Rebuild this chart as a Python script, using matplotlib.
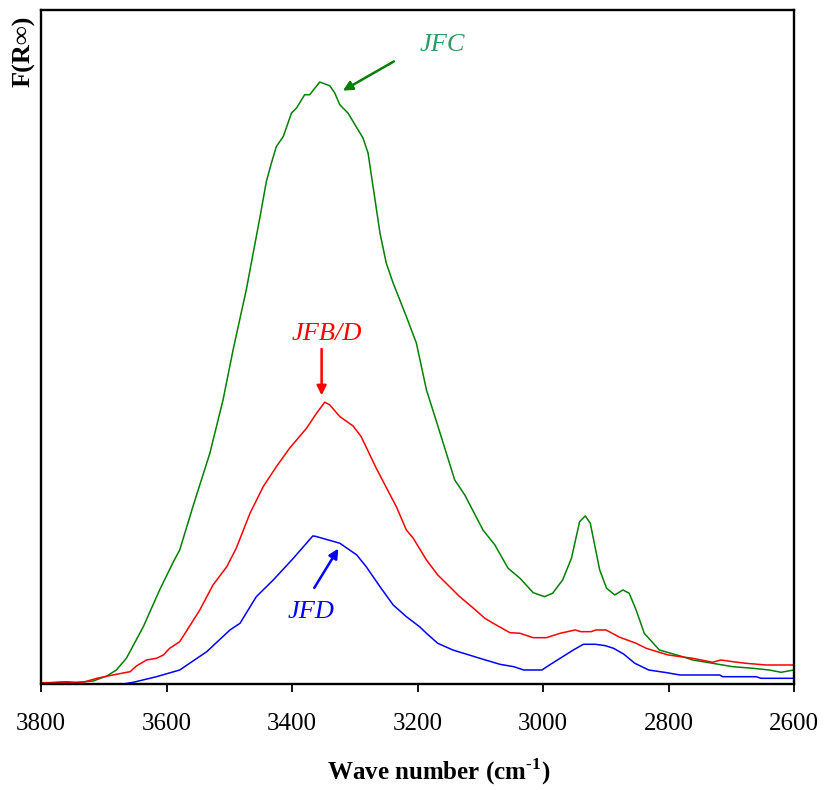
import matplotlib
matplotlib.use("Agg")
import matplotlib.pyplot as plt

# ---- data (wavenumber in cm^-1, F(R) in arbitrary units) ----
jfc_w = [3800, 3770, 3759, 3745, 3717, 3695, 3680, 3664, 3637, 3611, 3589, 3579, 3558, 3531,
         3510, 3494, 3473, 3451, 3441, 3433, 3425, 3414, 3401, 3393, 3380, 3372, 3356, 3340,
         3332, 3324, 3311, 3287, 3279, 3260, 3250, 3239, 3218, 3202, 3186, 3170, 3141, 3125,
         3096, 3077, 3056, 3037, 3016, 2998, 2985, 2969, 2955, 2942, 2933, 2925, 2910, 2899,
         2886, 2873, 2863, 2852, 2839, 2815, 2778, 2762, 2730, 2698, 2666, 2640, 2621, 2601]
jfc_v = [0.008, 0.023, 0.026, 0.018, 0.033, 0.083, 0.143, 0.260, 0.576, 0.943, 1.226, 1.343,
         1.776, 2.310, 2.843, 3.343, 3.943, 4.676, 5.026, 5.210, 5.376, 5.476, 5.710, 5.760,
         5.893, 5.893, 6.020, 5.983, 5.910, 5.793, 5.710, 5.460, 5.310, 4.510, 4.210, 4.010,
         3.676, 3.410, 2.943, 2.626, 2.043, 1.893, 1.543, 1.393, 1.160, 1.060, 0.916, 0.876,
         0.910, 1.043, 1.260, 1.626, 1.683, 1.610, 1.143, 0.960, 0.893, 0.943, 0.910, 0.743,
         0.510, 0.343, 0.276, 0.243, 0.210, 0.176, 0.160, 0.143, 0.120, 0.143]

jfbd_w = [3800, 3733, 3711, 3680, 3658, 3648, 3632, 3616, 3605, 3595, 3579, 3547, 3526, 3504,
          3489, 3467, 3446, 3425, 3404, 3377, 3361, 3348, 3340, 3324, 3303, 3290, 3266, 3234,
          3218, 3207, 3186, 3168, 3133, 3111, 3093, 3075, 3053, 3037, 3016, 2995, 2973, 2949,
          2940, 2924, 2916, 2900, 2878, 2852, 2836, 2801, 2762, 2730, 2717, 2698, 2677, 2645, 2601]
jfbd_v = [0.016, 0.020, 0.060, 0.100, 0.126, 0.183, 0.243, 0.260, 0.293, 0.360, 0.426, 0.743,
          0.993, 1.176, 1.360, 1.710, 1.976, 2.176, 2.360, 2.560, 2.710, 2.820, 2.793, 2.676,
          2.583, 2.476, 2.160, 1.776, 1.543, 1.460, 1.243, 1.093, 0.876, 0.760, 0.660, 0.593,
          0.516, 0.510, 0.466, 0.466, 0.510, 0.543, 0.526, 0.526, 0.543, 0.543, 0.470, 0.410,
          0.360, 0.293, 0.260, 0.220, 0.243, 0.226, 0.210, 0.193, 0.193]

jfd_w = [3800, 3669, 3653, 3616, 3579, 3536, 3499, 3483, 3457, 3430, 3398, 3367, 3362, 3324,
         3297, 3282, 3260, 3239, 3218, 3197, 3186, 3168, 3144, 3101, 3069, 3047, 3031, 3002,
         2990, 2973, 2952, 2936, 2917, 2901, 2888, 2872, 2854, 2832, 2803, 2782, 2719, 2714,
         2661, 2653, 2601]
jfd_v = [0.000, 0.003, 0.020, 0.076, 0.143, 0.326, 0.543, 0.610, 0.876, 1.043, 1.260, 1.483,
         1.478, 1.410, 1.293, 1.176, 0.976, 0.793, 0.676, 0.576, 0.510, 0.410, 0.343, 0.260,
         0.200, 0.176, 0.143, 0.143, 0.193, 0.260, 0.343, 0.400, 0.400, 0.386, 0.360, 0.303,
         0.210, 0.143, 0.116, 0.093, 0.093, 0.076, 0.076, 0.060, 0.060]

x_ticks = [3800, 3600, 3400, 3200, 3000, 2800, 2600]
labels = ["JFC", "JFB/D", "JFD"]

serif = ["Liberation Serif", "DejaVu Serif"]
plt.rcParams["font.family"] = serif
plt.rcParams["mathtext.fontset"] = "custom"
plt.rcParams["mathtext.rm"] = "Liberation Serif"
plt.rcParams["mathtext.bf"] = "Liberation Serif:bold"

fig = plt.figure(figsize=(8.25, 7.9), dpi=100)
ax = fig.add_axes([41 / 825, 1 - 684.3 / 790, (794.3 - 41) / 825, (684.3 - 10) / 790])

ax.plot(jfc_w, jfc_v, color="#008000", lw=1.1)
ax.plot(jfbd_w, jfbd_v, color="#FF0000", lw=1.1)
ax.plot(jfd_w, jfd_v, color="#0000FF", lw=1.1)

ax.set_xlim(3800, 2600)
ax.set_ylim(0, 6.74)
ax.set_xticks(x_ticks)
ax.set_xticklabels([str(t) for t in x_ticks])
ax.set_yticks([])
ax.tick_params(axis="x", direction="out", length=6, width=1.3, labelsize=18, pad=15)
for s in ax.spines.values():
    s.set_linewidth(1.7)
    s.set_color("black")

fig.text(439 / 825, 1 - 772 / 790, "Wave number (cm$^{\\mathbf{\u2010}\\mathbf{1}}$)",
         ha="center", va="center", fontsize=18, fontweight="bold")
fig.text(24 / 825, 1 - 16 / 790, "F(R\u221e)", rotation=90, ha="center", va="top",
         fontsize=19, fontweight="bold")

# annotations
ax.text(3160, 6.39, labels[0], color="#339966", style="italic", fontsize=19, ha="center", va="center")
ax.annotate("", xy=(3323, 5.92), xytext=(3234, 6.24),
            arrowprops=dict(arrowstyle="-|>", color="#008000", lw=1.8, mutation_scale=14))
ax.text(3345, 3.50, labels[1], color="#FF0000", style="italic", fontsize=19, ha="center", va="center")
ax.annotate("", xy=(3353, 2.86), xytext=(3353, 3.38),
            arrowprops=dict(arrowstyle="-|>", color="#FF0000", lw=1.8, mutation_scale=14))
ax.text(3370, 0.72, labels[2], color="#0000FF", style="italic", fontsize=19, ha="center", va="center")
ax.annotate("", xy=(3324, 1.38), xytext=(3367, 0.94),
            arrowprops=dict(arrowstyle="-|>", color="#0000FF", lw=1.8, mutation_scale=14))

fig.savefig("out.png", dpi=100)
